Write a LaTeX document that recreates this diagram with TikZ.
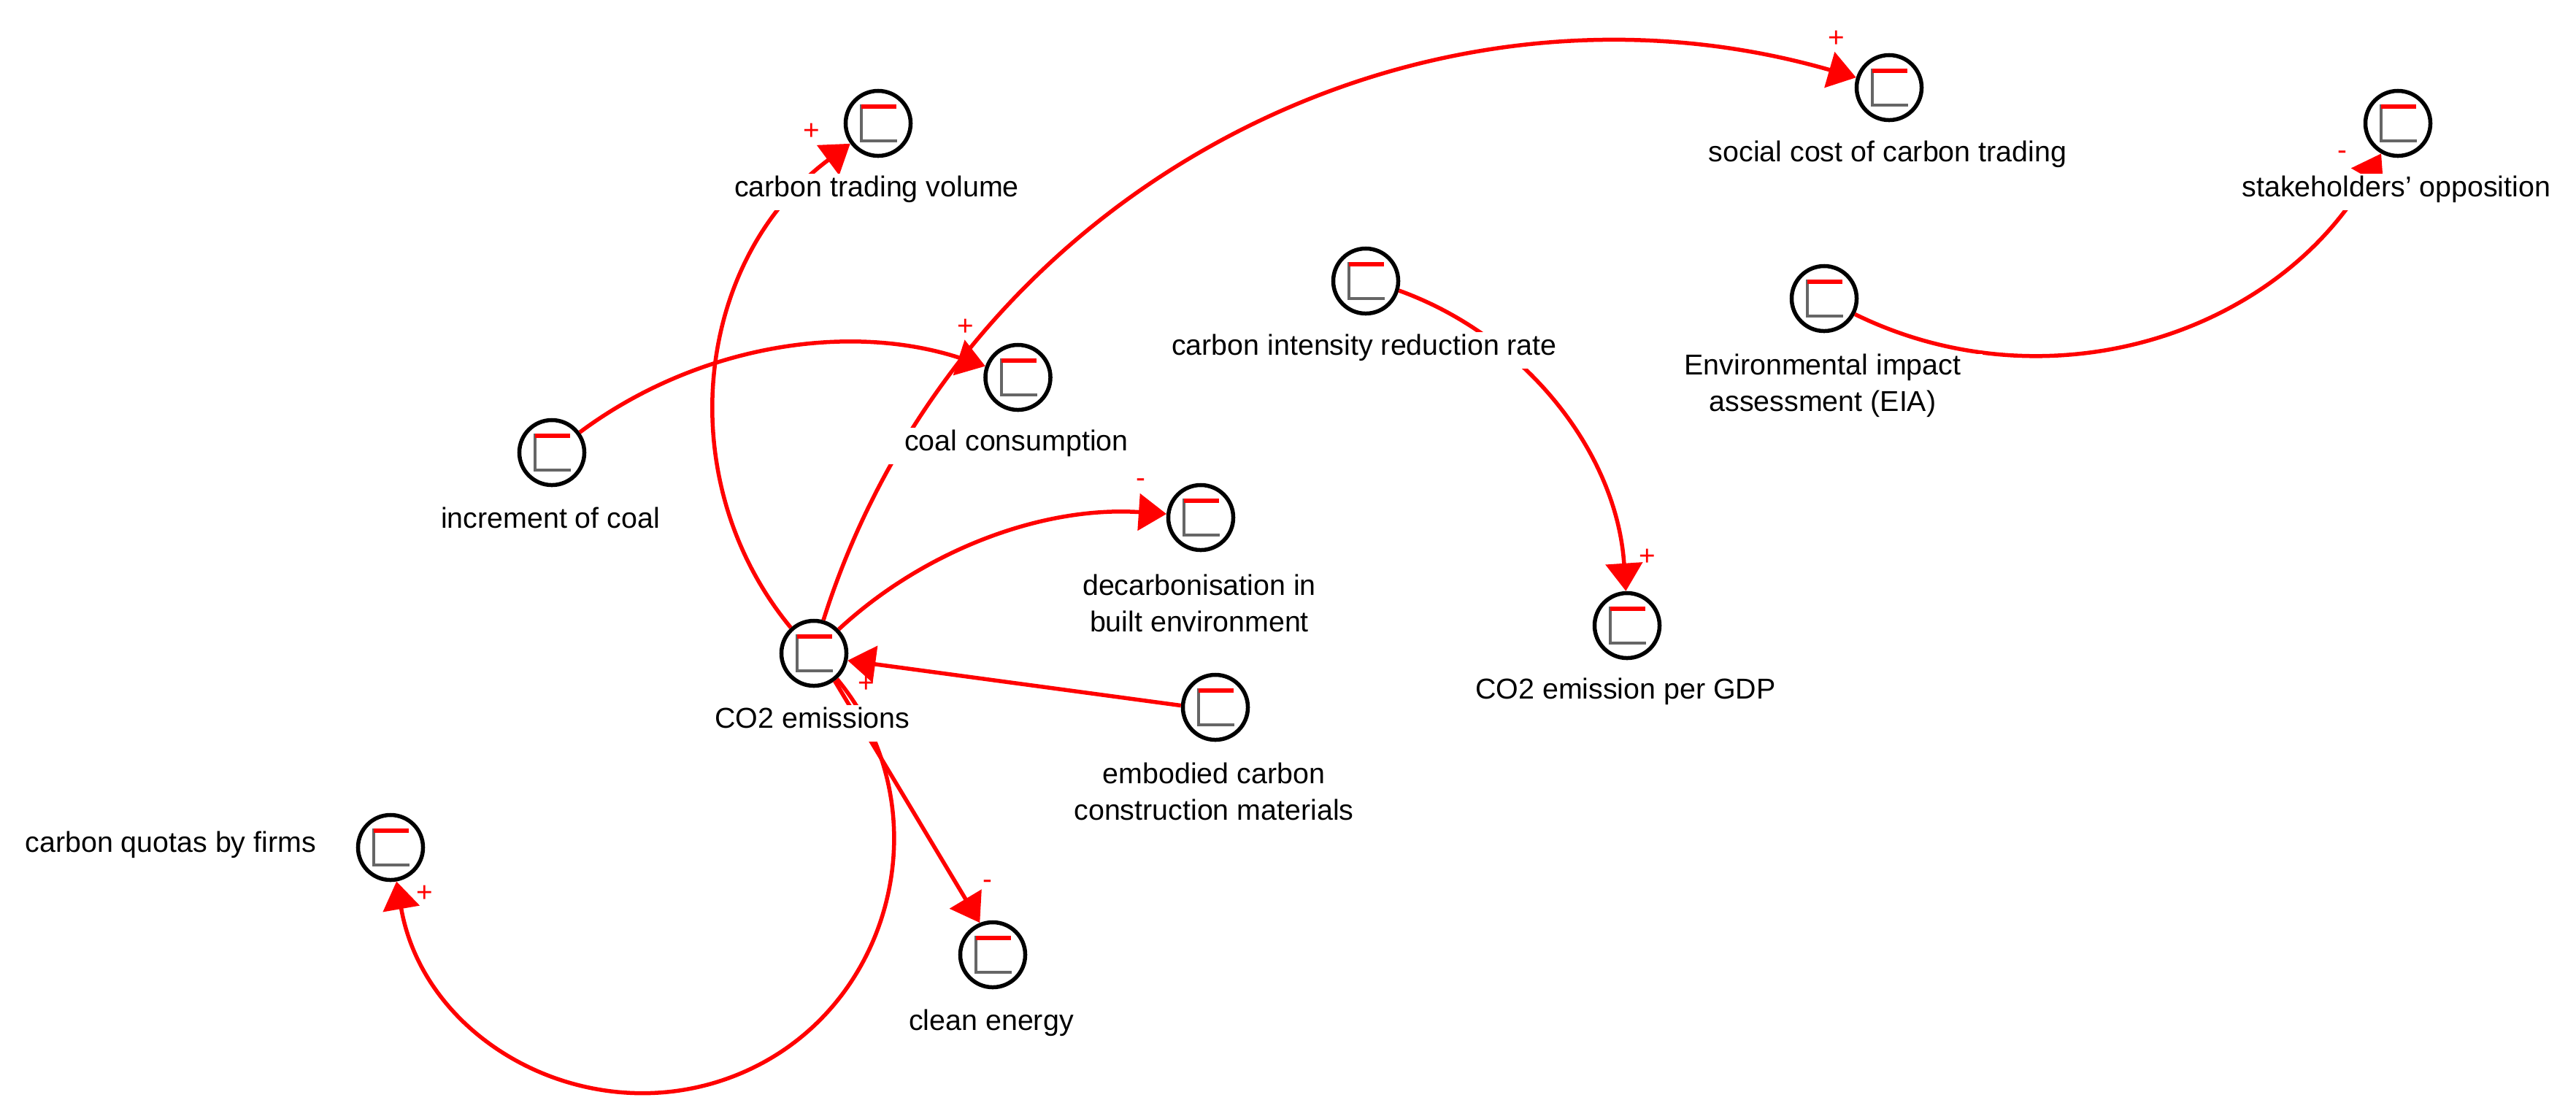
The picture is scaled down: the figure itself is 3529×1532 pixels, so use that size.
\documentclass[tikz,border=0pt]{standalone}
\usepackage{fontspec}
\setmainfont{Liberation Sans}
\usetikzlibrary{arrows.meta,positioning}
\newcommand{\labelstrut}{\rule[-.19cm]{0pt}{.5cm}}
\tikzset{
  varnode/.style={circle,draw,line width=.055cm,minimum size=.89cm,inner sep=0pt,fill=white,
    path picture={
      \draw [line width=.04cm,black!60] ([shift={(-23,-26)}]path picture bounding box.center) -- ([shift={(-23,24)}]path picture bounding box.center) -- ([shift={(26,24)}]path picture bounding box.center);
      \draw [line width=.06cm,red] ([shift={(-23,-23)}]path picture bounding box.center) -- ([shift={(25,-23)}]path picture bounding box.center);
    }},
  varlabel/.style={fill=white,inner xsep=.3cm,inner ysep=0pt,align=center,xshift=-.02cm,
    font=\fontsize{11.2}{14.2}\selectfont,
    execute at begin node=\labelstrut,execute at end node=\labelstrut},
  link/.style={red,line width=.055cm,-{Triangle[length=.38cm,width=.5cm]}},
  signlabel/.style={red,inner sep=0pt,font=\fontsize{11}{13}\selectfont}
}
\begin{document}
\begin{tikzpicture}[x=.01cm,y=-.01cm]
    \useasboundingbox (0,0) rectangle (3529,1532);

    % stocks
    \node [varnode] (volume) at (1203,169) {};
    \node [varnode] (opposition) at (3285,169) {};
    \node [varnode] (social) at (2588,120) {};
    \node [varnode] (coal) at (1394.5,517) {};
    \node [varnode] (increment) at (756,620) {};
    \node [varnode] (intensity) at (1871,385) {};
    \node [varnode] (eia) at (2499,409) {};
    \node [varnode] (decarb) at (1645,709) {};
    \node [varnode] (co2) at (1115,895) {};
    \node [varnode] (embodied) at (1665,969) {};
    \node [varnode] (quotas) at (535,1161) {};
    \node [varnode] (clean) at (1360,1308) {};
    \node [varnode] (gdp) at (2229,857) {};

    % links
    \draw [link] (co2.132) .. controls (916,657) and (952,355) .. (volume.216);
    \draw [link] (co2.74) .. controls (1316,257) and (1945,-66) .. (social.163);
    \draw [link] (increment.36) .. controls (953,474) and (1160,440) .. (coal.161);
    \draw [link] (co2.44) .. controls (1269,751) and (1432,693) .. (decarb.174);
    \draw [link] (embodied.177) -- (co2.-12);
    \draw [link] (co2.-53) -- (clean.112);
    \coordinate (loopmid) at (1027,1465);
    \draw [link] (co2.-48) .. controls (1289,1101) and (1230,1370) .. (loopmid) .. controls (824,1560) and (583,1436) .. (quotas.-80);
    \draw [link] (eia.-27) .. controls (2801,558) and (3116,463) .. (opposition.241);
    \draw [link] (intensity.-16) .. controls (2091,461) and (2215,621) .. (gdp.92);

    % add labels
    \node [varlabel,below=.21cm of volume] (volumelabel) {carbon trading volume};
    \node [varlabel,below=.21cm of opposition] (oppositionlabel) {stakeholders’ opposition};
    \node [varlabel,below=.22cm of social] (sociallabel) {social cost of carbon trading};
    \node [varlabel,below=.21cm of coal] (coallabel) {coal consumption};
    \node [varlabel,below=.24cm of increment] (incrementlabel) {increment of coal};
    \node [varlabel,below=.22cm of intensity] (intensitylabel) {carbon intensity reduction rate};
    \node [varlabel,below=.28cm of eia] (eialabel) {Environmental impact\\assessment (EIA)};
    \node [varlabel,below=.3cm of decarb] (decarblabel) {decarbonisation in\\built environment};
    \node [varlabel,below=.23cm of co2] (co2label) {CO2 emissions};
    \node [varlabel,below=.28cm of embodied] (embodiedlabel) {embodied carbon\\construction materials};
    \node [varlabel,left=.22cm of quotas] (quotaslabel) {carbon quotas by firms};
    \node [varlabel,below=.24cm of clean] (cleanlabel) {clean energy};
    \node [varlabel,below=.21cm of gdp] (gdplabel) {CO2 emission per GDP};

    % add signs
    \node [signlabel] (signvolume) at (1112,180) {+};
    \node [signlabel] (signsocial) at (2516,53) {+};
    \node [signlabel] (signcoal) at (1323,448) {+};
    \node [signlabel] (signdecarb) at (1563,662) {-};
    \node [signlabel] (signco2) at (1187,937) {+};
    \node [signlabel] (signclean) at (1353,1212) {-};
    \node [signlabel] (signquotas) at (582,1224) {+};
    \node [signlabel] (signopposition) at (3209,213) {-};
    \node [signlabel] (signgdp) at (2257,763) {+};
\end{tikzpicture}
\end{document}
